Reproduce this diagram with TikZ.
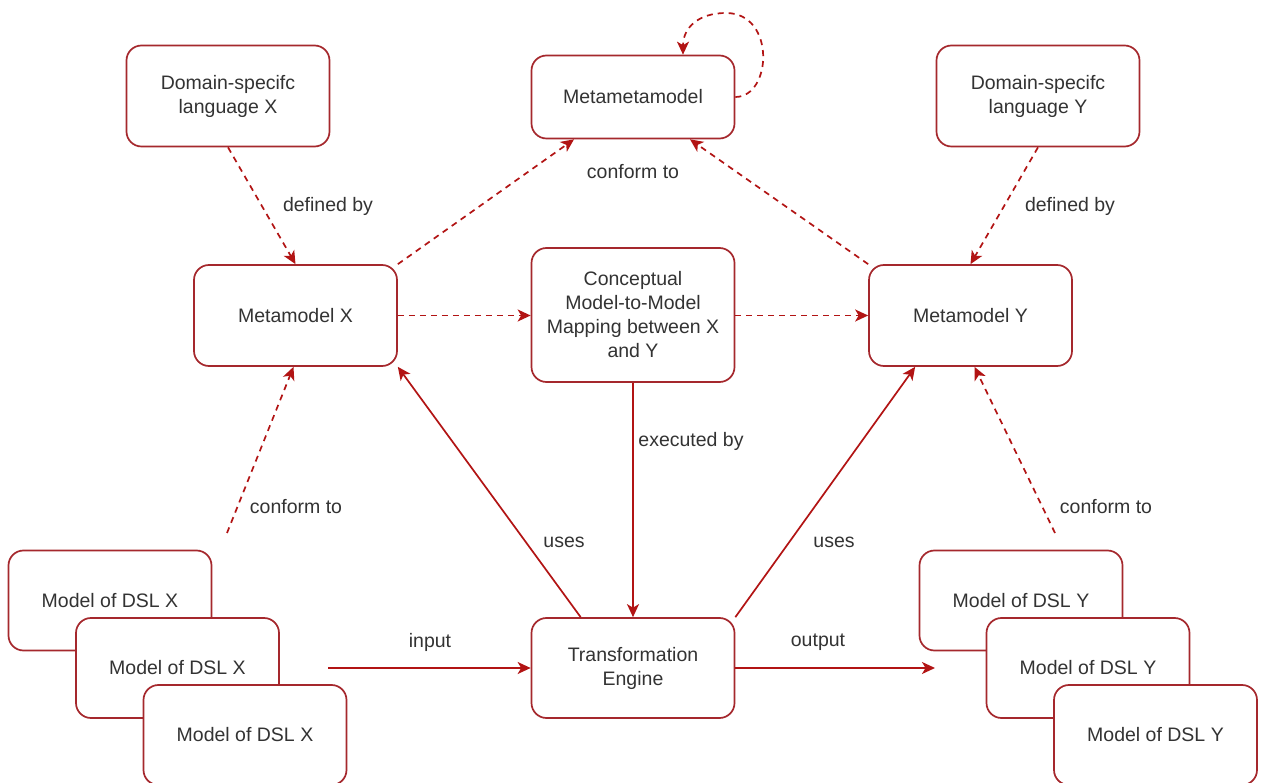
\documentclass[tikz,border=0pt]{standalone}
\usepackage{fontspec}
\setmainfont{Liberation Sans}
\usetikzlibrary{arrows.meta,calc}

\definecolor{boxred}{RGB}{165,40,45}
\definecolor{linkred}{RGB}{178,20,20}
\definecolor{txt}{RGB}{51,51,51}

\tikzset{
  box/.style={draw=boxred, line width=1.7pt, fill=white, rounded corners=15pt,
    minimum width=203pt, minimum height=101pt, align=center, inner sep=4pt,
    text=txt, font=\fontsize{19.5}{24}\selectfont},
  link/.style={draw=linkred, line width=1.7pt,
    -{Stealth[length=13pt,width=12pt,inset=3.5pt]}},
  weak/.style={link, dash pattern=on 6pt off 5pt},
  lbl/.style={text=txt, font=\fontsize{19.5}{24}\selectfont, inner sep=1pt}
}

\begin{document}
\begin{tikzpicture}[x=1pt,y=-1pt]
\useasboundingbox[fill=white] (0,0) rectangle (1262,783);

% top row
\node[box] (dslx) at (228,96) {Domain-specifc\\language X};
\node[box, minimum height=83pt] (mmm) at (633,97) {Metametamodel};
\node[box] (dsly) at (1038,96) {Domain-specifc\\language Y};

% middle row
\node[box] (mmx) at (295.5,315.5) {Metamodel X};
\node[box, minimum height=134pt] (map) at (633,315)
  {Conceptual\\Model-to-Model\\Mapping between X\\and Y};
\node[box] (mmy) at (970.5,315.5) {Metamodel Y};

% bottom row
\node[box, minimum height=100pt] (te) at (633,668) {Transformation\\Engine};

\node[box, minimum height=100pt] (mx1) at (110,600.5) {Model of DSL X};
\node[box, minimum height=100pt] (mx2) at (177.5,668) {Model of DSL X};
\node[box, minimum height=100pt] (mx3) at (245,735) {Model of DSL X};

\node[box, minimum height=100pt] (my1) at (1021,600.5) {Model of DSL Y};
\node[box, minimum height=100pt] (my2) at (1088,668) {Model of DSL Y};
\node[box, minimum height=100pt] (my3) at (1155.5,735) {Model of DSL Y};

% free ends of connectors
\coordinate (cfx) at (227,533);
\coordinate (cfy) at (1055,533);
\coordinate (inx) at (328,668);
\coordinate (outy) at (935,668);

% definitions
\draw[weak] (dslx.south) -- (mmx.north);
\draw[weak] (dsly.south) -- (mmy.north);
\node[lbl] at (328,206) {defined by};
\node[lbl] at (1070,206) {defined by};

% conformance to the metametamodel
\draw[weak] (mmx.north east) -- ($(mmm.south)+(-59,0)$);
\draw[weak] (mmy.north west) -- ($(mmm.south)+(57,0)$);
\node[lbl] at (633,172) {conform to};
\draw[weak] (mmm.east) .. controls (772,97) and (776,13) .. (726,13)
  .. controls (698,13) and (683,28) .. ($(mmm.north)+(50,0)$);

% mapping
\draw[weak] (mmx.east) -- (map.west |- mmx.east);
\draw[weak] (map.east |- mmy.west) -- (mmy.west);
\draw[link] (map.south) -- (te.north);
\node[lbl] at (691,441) {executed by};

% engine uses both metamodels
\draw[link] ($(te.north west)+(50,0)$) -- (mmx.south east);
\draw[link] (te.north east) -- ($(mmy.south west)+(47,0)$);
\node[lbl] at (564,542) {uses};
\node[lbl] at (834,542) {uses};

% models conform to metamodels
\draw[weak] (cfx) -- ($(mmx.south)+(-2,0)$);
\draw[weak] (cfy) -- ($(mmy.south)+(4,0)$);
\node[lbl] at (296,507) {conform to};
\node[lbl] at (1106,507) {conform to};

% input and output
\draw[link] (inx) -- (te.west);
\draw[link] (te.east) -- (outy);
\node[lbl] at (430,642) {input};
\node[lbl] at (818,642) {output};
\end{tikzpicture}
\end{document}
